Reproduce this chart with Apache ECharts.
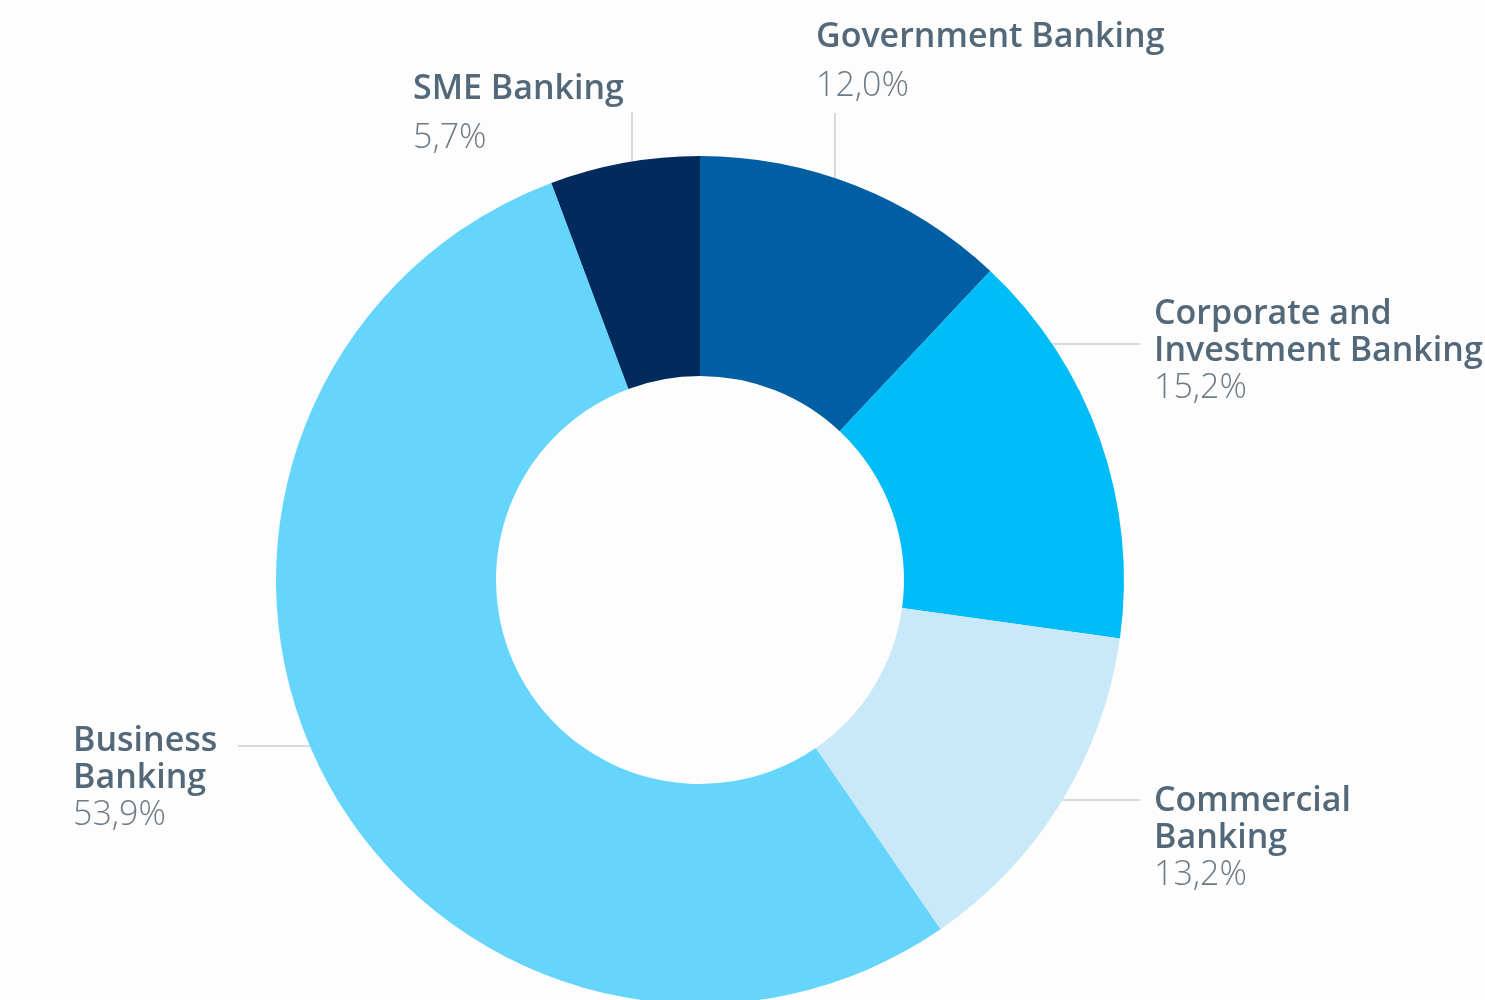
<!DOCTYPE html>
<html>
<head>
<meta charset="utf-8">
<title>Loan book by segment</title>
<script src="https://cdn.jsdelivr.net/npm/echarts@6/dist/echarts.min.js"></script>
<style>
  html, body { margin: 0; padding: 0; background: #fdfdfd; }
  #chart { width: 1485px; height: 1000px; }
</style>
</head>
<body>
<div id="chart"></div>
<script>
// Segment names (line breaks mark where the label wraps) and their shares, in %
var categories = [
  'Government Banking',
  'Corporate and\nInvestment Banking',
  'Commercial\nBanking',
  'Business\nBanking',
  'SME Banking'
];
var shares = [12.0, 15.2, 13.2, 53.9, 5.7];
var colors = ['#005ea2', '#00bdf8', '#c9e9f8', '#66d5fb', '#002b5c'];

// Donut geometry
var CX = 700, CY = 580, R_IN = 204, R_OUT = 424;

// Where each label block sits and where its leader line ends
// dir: 'v' = vertical leader line, 'h' = horizontal leader line
var labelPlacement = [
  { x: 816,  y: 13,  dir: 'v', end: [835, 113], top: true },
  { x: 1154, y: 296, dir: 'h', end: [1140, 344] },
  { x: 1154, y: 783, dir: 'h', end: [1140, 800] },
  { x: 73,   y: 723, dir: 'h', end: [238, 746] },
  { x: 413,  y: 65,  dir: 'v', end: [632, 112], top: true }
];

function pct(v) {
  return v.toFixed(1).replace('.', ',') + '%';
}

function arcPoint(p) {
  if (p.dir === 'v') {
    var dx = p.end[0] - CX;
    return [p.end[0], CY - Math.sqrt(R_OUT * R_OUT - dx * dx)];
  }
  var dy = p.end[1] - CY;
  var side = p.end[0] > CX ? 1 : -1;
  return [CX + side * Math.sqrt(R_OUT * R_OUT - dy * dy), p.end[1]];
}

var chart = echarts.init(document.getElementById('chart'), null, { renderer: 'canvas' });

var data = categories.map(function (name, i) {
  return { name: name, value: shares[i], itemStyle: { color: colors[i] } };
});

var FONT = '"Open Sans", Roboto, sans-serif';

chart.setOption({
  backgroundColor: '#fdfdfd',
  animation: false,
  series: [{
    type: 'pie',
    center: [CX, CY],
    radius: [R_IN, R_OUT],
    startAngle: 90,
    clockwise: true,
    avoidLabelOverlap: false,
    emphasis: { disabled: true },
    itemStyle: { borderWidth: 0 },
    label: {
      show: true,
      position: 'outside',
      formatter: function (params) {
        var top = labelPlacement[params.dataIndex].top;
        var n = top ? 'nt' : 'n';
        var p = top ? 'pt' : 'p';
        var lines = params.name.split('\n').map(function (s) {
          return '{' + n + '|' + s + '}';
        });
        lines.push('{' + p + '|' + pct(params.value) + '}');
        return lines.join('\n');
      },
      rich: {
        n:  { fontFamily: FONT, fontWeight: 600, fontSize: 34, color: '#536879', lineHeight: 37 },
        p:  { fontFamily: FONT, fontWeight: 300, fontSize: 34, color: '#6d7b87', lineHeight: 37 },
        nt: { fontFamily: FONT, fontWeight: 600, fontSize: 34, color: '#536879', lineHeight: 49 },
        pt: { fontFamily: FONT, fontWeight: 300, fontSize: 34, color: '#6d7b87', lineHeight: 49 }
      }
    },
    labelLine: {
      show: true,
      lineStyle: { color: '#c9ced3', width: 1.5 }
    },
    labelLayout: function (params) {
      var p = labelPlacement[params.dataIndex];
      var a = arcPoint(p);
      return {
        x: p.x,
        y: p.y,
        align: 'left',
        verticalAlign: 'top',
        labelLinePoints: [a, p.end, p.end]
      };
    },
    data: data
  }]
});
</script>
</body>
</html>
